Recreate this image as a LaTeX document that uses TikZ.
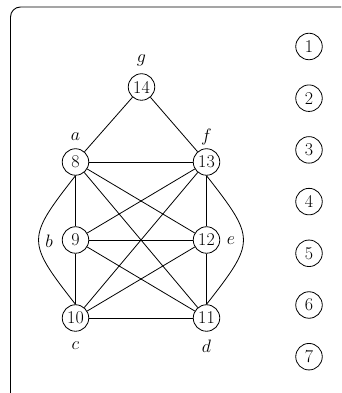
\RequirePackage{fix-cm}
\documentclass[tikz,border=0pt]{standalone}
\begin{document}
\begin{tikzpicture}[x=1pt,y=1pt,
  vert/.style={circle,draw,line width=0.8pt,minimum size=26.5pt,inner sep=0pt,
    font=\fontsize{18}{21}\selectfont},
  lbl/.style={inner sep=0pt,font=\fontsize{18}{21}\selectfont},
  link/.style={line width=0.8pt}]
  \useasboundingbox (0,0) rectangle (341,393);
  \clip (0,0) rectangle (341,393);
  % outer frame, running off the right and bottom edges
  \draw[line width=0.9pt,rounded corners=10pt] (10.5,-20) -- (10.5,386) -- (360,386);

  % graph vertices
  \node[vert] (n14) at (141.5,306) {14};
  \node[vert] (n8)  at (75.5,231)  {8};
  \node[vert] (n13) at (206.5,231) {13};
  \node[vert] (n9)  at (75.5,153)  {9};
  \node[vert] (n12) at (206.5,153) {12};
  \node[vert] (n10) at (75.5,75)   {10};
  \node[vert] (n11) at (206.5,75)  {11};

  % vertex labels
  \node[lbl] (lg) at (141.5,333) {$g$};
  \node[lbl] (la) at (75.5,256)  {$a$};
  \node[lbl] (lf) at (206.5,256) {$f$};
  \node[lbl] (lb) at (49,152)    {$b$};
  \node[lbl] (le) at (231,152)   {$e$};
  \node[lbl] (lc) at (75.5,47)   {$c$};
  \node[lbl] (ld) at (206.5,47)  {$d$};

  % edges
  \draw[link] (n14) -- (n8);
  \draw[link] (n14) -- (n13);
  \draw[link] (n8) -- (n13);
  \draw[link] (n8) -- (n9);
  \draw[link] (n8) -- (n12);
  \draw[link] (n8) -- (n11);
  \draw[link] (n13) -- (n9);
  \draw[link] (n13) -- (n10);
  \draw[link] (n13) -- (n12);
  \draw[link] (n9) -- (n12);
  \draw[link] (n9) -- (n11);
  \draw[link] (n9) -- (n10);
  \draw[link] (n12) -- (n10);
  \draw[link] (n12) -- (n11);
  \draw[link] (n10) -- (n11);
  \draw[link] (n8.south) .. controls +(232:80) and +(128:80) .. (n10.north);
  \draw[link] (n13.south) .. controls +(308:80) and +(52:80) .. (n11.north);

  % numbered column on the right
  \foreach \k [count=\i from 0] in {1,...,7}
    \node[vert] (r\k) at (309,{346.5-51.7*\i}) {\k};
\end{tikzpicture}
\end{document}
